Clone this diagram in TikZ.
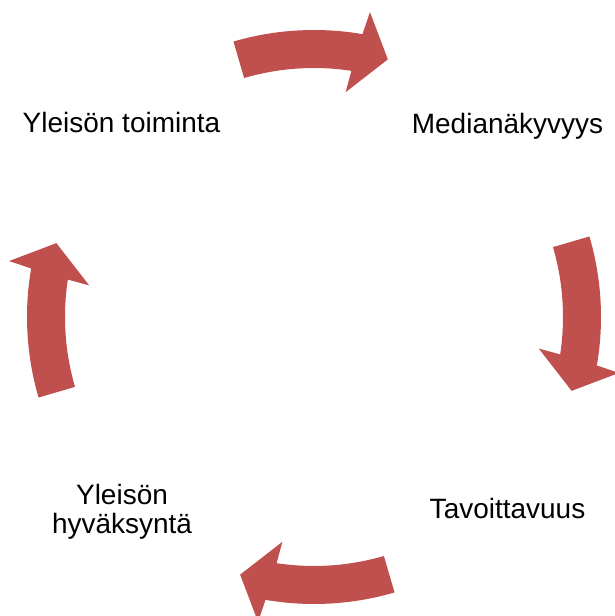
\documentclass[tikz,border=0pt]{standalone}
\usepackage{fontspec}
\setmainfont{Liberation Sans}
\usetikzlibrary{positioning}
\definecolor{cyclered}{RGB}{192,80,77}
\tikzset{
  stage/.style={font=\fontsize{19.9}{20.6}\selectfont, inner sep=0pt, align=center},
  bendarr/.style={fill=cyclered, draw=none},
}
% curved block arrow round the hub, #1 = middle angle
\newcommand{\bendarrow}[1]{%
  \fill[bendarr] (#1+16.3:287) arc[start angle=#1+16.3, end angle=#1-9.73, radius=287]
    -- (#1-10.4:310) -- (#1-16:268) -- (#1-8:227) -- (#1-8.64:249)
    arc[start angle=#1-8.64, end angle=#1+16.3, radius=249] -- cycle;}

\begin{document}
\begin{tikzpicture}[x=0.025cm, y=0.025cm]
\useasboundingbox (0,0) rectangle (615,616);

% ── Stages ──
\node[stage, anchor=base] (toiminta) at (121.5,483) {Yleisön toiminta};
\node[stage, anchor=base] (media) at (507.5,482) {Medianäkyvyys};
\node[stage, anchor=base] (tavoitt) at (507.5,97) {Tavoittavuus};
\node[stage] (hyvaksynta) at (122,104.5) {Yleisön\\hyväksyntä};

% ── Arrows ──
\begin{scope}[shift={(314,299)}]
  \bendarrow{90}
  \bendarrow{0}
  \bendarrow{-90}
  \bendarrow{180}
\end{scope}

\end{tikzpicture}
\end{document}
